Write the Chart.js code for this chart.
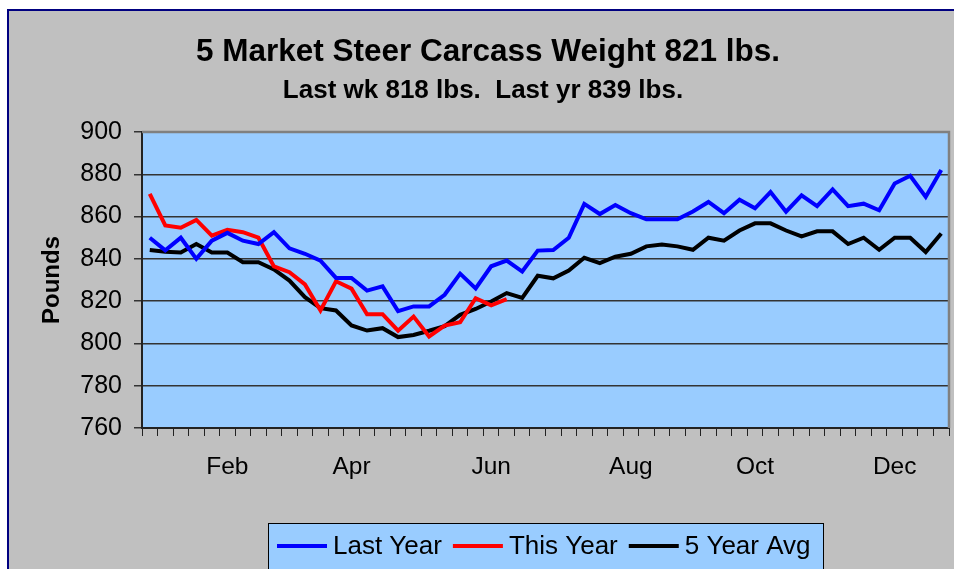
<!DOCTYPE html>
<html>
<head>
<meta charset="utf-8">
<script src="https://cdn.jsdelivr.net/npm/chart.js@4.4.1/dist/chart.umd.min.js"></script>
<style>
  html, body { margin: 0; padding: 0; background: #fff; }
  canvas { display: block; }
</style>
</head>
<body>
<canvas id="chart" width="954" height="569"></canvas>
<script>
// ─── Datos ────────────────────────────────────────────────────
const weeks = [
  "", "", "", "", "", "Feb", "", "", "", "", "", "", "",
  "Apr", "", "", "", "", "", "", "", "", "Jun", "", "", "",
  "", "", "", "", "", "Aug", "", "", "", "", "", "", "",
  "Oct", "", "", "", "", "", "", "", "", "Dec", "", "", ""
];

const lastYear = [
  850, 844, 850, 840, 848.6, 852.3, 848.6, 847, 852.6, 845, 842.4, 839.2, 831,
  831, 825, 827, 815.3, 817.5, 817.5, 823, 833, 826, 836.5, 839.2, 834, 843.9,
  844.2, 850, 866, 861.2, 865.5, 861.6, 858.7, 858.7, 858.7, 862.4, 866.9, 861.6, 868,
  863.9, 871.6, 862.3, 870, 864.9, 872.8, 864.9, 866.1, 863, 875.6, 879.3, 869.3, 882
];

const thisYear = [
  870.7, 855.8, 854.7, 858.4, 851, 853.7, 852.6, 850, 836.4, 833.7, 827.9, 815.6,
  829.4, 825.9, 813.8, 813.8, 806, 812.7, 803.3, 808.4, 810, 821.4, 818, 821
];

const fiveYearAvg = [
  844.2, 843.4, 843, 847, 843, 843, 838.4, 838.4, 835, 829.7, 821.9, 816.7, 815.6,
  808.5, 806.1, 807.2, 803, 804, 806, 808.2, 813.5, 816.3, 819.8, 823.8, 821.5, 832,
  830.8, 834.5, 840.5, 838, 841, 842.4, 845.9, 846.8, 845.9, 844.3, 850, 848.6, 853.4,
  856.8, 856.8, 853.4, 850.6, 853, 853, 847, 850, 844.3, 850, 850, 843.2, 852
];

const yMin = 760, yMax = 900, yStep = 20;
const titulo = "5 Market Steer Carcass Weight 821 lbs.";
const subtitulo = "Last wk 818 lbs.  Last yr 839 lbs.";

const FONT = "'Liberation Sans', Arial, sans-serif";

// ─── Plugins ──────────────────────────────────────────────────
const marco = {
  id: "marco",
  beforeDraw(chart) {
    const { ctx, width, height, chartArea: a } = chart;
    ctx.save();
    ctx.fillStyle = "#ffffff";
    ctx.fillRect(0, 0, width, height);
    ctx.fillStyle = "#C0C0C0";
    ctx.fillRect(8, 10, width, height);
    ctx.fillStyle = "#000080";
    ctx.fillRect(7, 9, width, 2);
    ctx.fillRect(7, 9, 2, height);
    ctx.fillStyle = "#99CCFF";
    ctx.fillRect(a.left, a.top, a.right - a.left, a.bottom - a.top);
    ctx.restore();
  },
  beforeDatasetsDraw(chart) {
    const { ctx, chartArea: a } = chart;
    ctx.save();
    ctx.strokeStyle = "#808080";
    ctx.lineWidth = 2.5;
    ctx.beginPath();
    ctx.moveTo(a.left, a.top);
    ctx.lineTo(a.right, a.top);
    ctx.lineTo(a.right, a.bottom);
    ctx.stroke();
    ctx.restore();
  },
  afterDraw(chart) {
    const { ctx } = chart;
    ctx.save();
    ctx.fillStyle = "#000";
    ctx.textAlign = "center";
    ctx.textBaseline = "middle";
    ctx.font = "bold 31.5px " + FONT;
    ctx.fillText(titulo, 488, 52);
    ctx.font = "bold 26px " + FONT;
    ctx.fillText(subtitulo, 483, 91);

    // Leyenda
    const lx = 268, ly = 523, lw = 555, lh = 60;
    ctx.fillStyle = "#99CCFF";
    ctx.fillRect(lx, ly, lw, lh);
    ctx.strokeStyle = "#000";
    ctx.lineWidth = 1;
    ctx.strokeRect(lx + 0.5, ly + 0.5, lw, lh);
    ctx.font = "26px " + FONT;
    ctx.textAlign = "left";
    let x = 277;
    const y = 546;
    chart.data.datasets.forEach(ds => {
      ctx.strokeStyle = ds.borderColor;
      ctx.lineWidth = 4;
      ctx.beginPath();
      ctx.moveTo(x, y);
      ctx.lineTo(x + 50, y);
      ctx.stroke();
      ctx.fillStyle = "#000";
      ctx.fillText(ds.label, x + 56, y + 1);
      x += 56 + ctx.measureText(ds.label).width + 11;
    });
    ctx.restore();
  }
};

// ─── Gráfico ──────────────────────────────────────────────────
new Chart(document.getElementById("chart"), {
  type: "line",
  data: {
    labels: weeks,
    datasets: [
      { label: "Last Year", data: lastYear, borderColor: "#0000FF" },
      { label: "This Year", data: thisYear, borderColor: "#FF0000" },
      { label: "5 Year Avg", data: fiveYearAvg, borderColor: "#000000" }
    ].map(d => ({ ...d, borderWidth: 4, pointRadius: 0, tension: 0, fill: false }))
  },
  options: {
    responsive: false,
    animation: false,
    devicePixelRatio: 1,
    layout: { padding: { top: 132, left: 38, right: 5, bottom: 0 } },
    plugins: { legend: { display: false }, tooltip: { enabled: false } },
    scales: {
      x: {
        offset: true,
        grid: { offset: true, drawOnChartArea: false, tickLength: 8, color: "#222", lineWidth: 1 },
        border: { display: true, color: "#222", width: 2 },
        ticks: { autoSkip: false, maxRotation: 0, color: "#000", padding: 17,
                 font: { family: FONT, size: 24.5 } },
        afterFit: s => { s.height = 141; s.paddingRight = 0; }
      },
      y: {
        min: yMin, max: yMax,
        grid: { color: "#333", lineWidth: 1.5, tickLength: 8 },
        border: { display: true, color: "#222", width: 2 },
        ticks: { stepSize: yStep, padding: 12, color: "#000",
                 font: { family: FONT, size: 25 } },
        title: { display: true, text: "Pounds", color: "#000", padding: { top: 0, bottom: 0 },
                 font: { family: FONT, size: 24, weight: "bold" } },
        afterFit: s => { s.width = 104; }
      }
    }
  },
  plugins: [marco]
});
</script>
</body>
</html>
